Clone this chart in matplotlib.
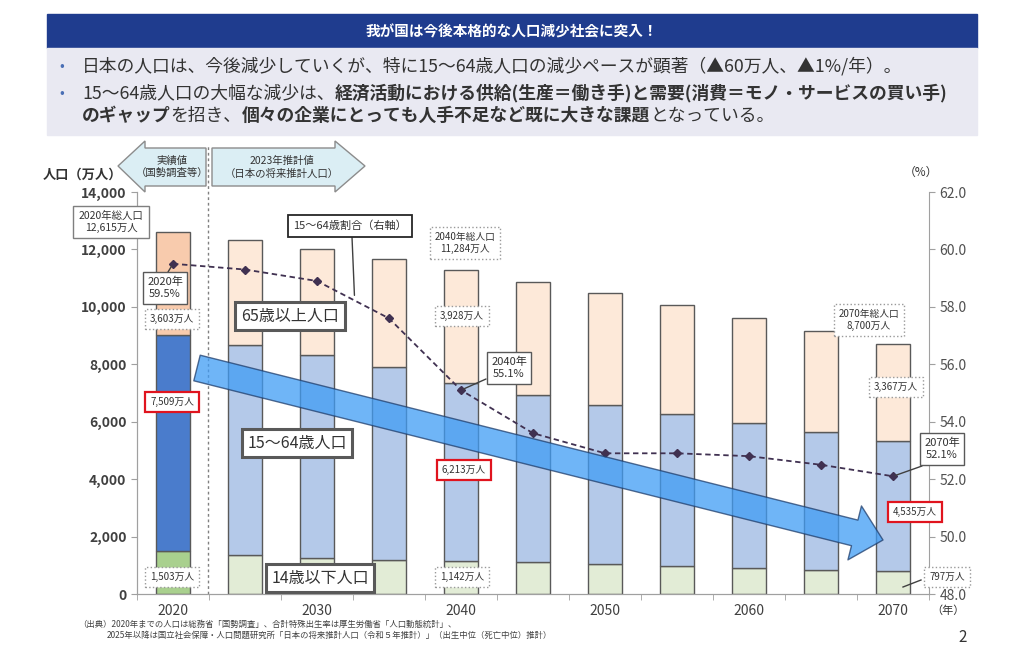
import matplotlib
matplotlib.use("Agg")
import matplotlib.pyplot as plt
import matplotlib.patches as mpatches
from matplotlib.lines import Line2D

plt.rcParams['font.family'] = ['Noto Sans CJK JP', 'DejaVu Sans']

# データ（万人）: 2020年は実績、2025年以降は推計
years = [2020, 2025, 2030, 2035, 2040, 2045, 2050, 2055, 2060, 2065, 2070]
age_0_14 = [1503, 1363, 1240, 1169, 1142, 1103, 1041, 970, 893, 840, 797]
age_15_64 = [7509, 7310, 7076, 6722, 6213, 5832, 5540, 5314, 5078, 4809, 4535]
age_65 = [3603, 3653, 3696, 3773, 3928, 3945, 3888, 3767, 3644, 3512, 3367]
ratio_15_64 = [59.5, 59.3, 58.9, 57.6, 55.1, 53.6, 52.9, 52.9, 52.8, 52.5, 52.1]
x_ticks = [2020, 2030, 2040, 2050, 2060, 2070]
y_ticks = [0, 2000, 4000, 6000, 8000, 10000, 12000, 14000]
r_ticks = [48.0, 50.0, 52.0, 54.0, 56.0, 58.0, 60.0, 62.0]

W, H = 1024, 653
fig = plt.figure(figsize=(W / 100, H / 100), dpi=100)


def px(x, y):
    return x / W, 1 - y / H


def ftext(x, y, s, **kw):
    return fig.text(*px(x, y), s, **kw)


# ---- ヘッダー ----
fig.patches.append(mpatches.Rectangle(px(47, 48), 930 / W, 34 / H, transform=fig.transFigure,
                                      color="#1f3c8e", zorder=0))
fig.patches.append(mpatches.Rectangle(px(47, 135), 930 / W, 87 / H, transform=fig.transFigure,
                                      color="#e9e9f2", zorder=0))
ftext(512, 31, "我が国は今後本格的な人口減少社会に突入！", color="white", fontsize=10.5,
      fontweight="bold", ha="center", va="center")

TXT = "#333333"
for yy in (66, 93):
    ftext(62, yy, "•", color="#4a6fb5", fontsize=10, ha="center", va="center")


def segments(x0, y, parts, size=12.8):
    r = fig.canvas.get_renderer()
    x = x0
    for s, bold in parts:
        t = ftext(x, y, s, fontsize=size, color=TXT, va="center", ha="left",
                  fontweight="bold" if bold else "normal")
        bb = t.get_window_extent(renderer=r)
        x += bb.width


segments(82, 66, [("日本の人口は、今後減少していくが、特に15～64歳人口の減少ペースが顕著（▲60万人、▲1%/年）。", False)])
segments(82, 93, [("15～64歳人口の大幅な減少は、", False),
                  ("経済活動における供給(生産＝働き手)と需要(消費＝モノ・サービスの買い手)", True)])
segments(82, 116, [("のギャップ", True), ("を招き、", False),
                   ("個々の企業にとっても人手不足など既に大きな課題", True), ("となっている。", False)])

# ---- グラフ本体 ----
ax = fig.add_axes([137 / W, 1 - 594 / H, 792 / W, 402 / H])
ax2 = ax.twinx()
ax.set_zorder(1)
ax2.set_zorder(2)
ax.patch.set_visible(False)

c_old = ["#f8cbad" if y == 2020 else "#fde9d9" for y in years]
c_mid = ["#4a7ccc" if y == 2020 else "#b4c9e9" for y in years]
c_young = ["#a9d08e" if y == 2020 else "#e2ecd6" for y in years]
bottom2 = [a + b for a, b in zip(age_0_14, age_15_64)]
bw = 2.3
kw = dict(width=bw, edgecolor="#595959", linewidth=1.0)
ax.bar(years, age_0_14, color=c_young, **kw)
ax.bar(years, age_15_64, bottom=age_0_14, color=c_mid, **kw)
ax.bar(years, age_65, bottom=bottom2, color=c_old, **kw)

ax.set_xlim(2017.5, 2072.5)
ax.set_ylim(0, 14000)
ax.set_yticks(y_ticks)
ax.set_yticklabels([f"{v:,}" for v in y_ticks], fontsize=10, fontweight="bold", color="#404040")
ax.set_xticks(x_ticks)
ax.set_xticklabels([str(v) for v in x_ticks], fontsize=10, color="#404040")
ax.set_xticks([y - 2.5 for y in years] + [2072.5], minor=True)
ax.tick_params(axis="x", which="major", length=0, pad=7)
ax.tick_params(axis="x", which="minor", length=4, color="#a0a0a0")
ax.tick_params(axis="y", length=4, color="#a0a0a0")
ax.spines["top"].set_visible(False)
ax2.spines["top"].set_visible(False)
for a in (ax, ax2):
    for sp in ("left", "right", "bottom"):
        a.spines[sp].set_color("#a0a0a0")
ax.spines["right"].set_visible(False)

ax2.plot(years, ratio_15_64, linestyle=(0, (3, 2)), color="#403151", linewidth=1.3,
         marker="D", markersize=4, markerfacecolor="#403151")
ax2.set_ylim(48, 62)
ax2.set_yticks(r_ticks)
ax2.set_yticklabels([f"{v:.1f}" for v in r_ticks], fontsize=10, color="#505050")
ax2.tick_params(axis="y", length=4, color="#a0a0a0")

# 実績値と推計値の境界
ax.axvline(2022.4, ymin=0, ymax=1.12, clip_on=False, color="#808080",
           linestyle=(0, (2, 2)), linewidth=1)

# 大きな矢印（15～64歳人口の減少）
arrow = mpatches.FancyArrowPatch(px(197, 368), px(883, 540), transform=fig.transFigure,
                                 arrowstyle="simple,head_length=21,head_width=40,tail_width=19",
                                 mutation_scale=1, shrinkA=0, shrinkB=0,
                                 facecolor="#3f9cf5", edgecolor="#1f3d6b", alpha=0.75,
                                 linewidth=1, zorder=5)
fig.patches.append(arrow)


# 上部の矢印ラベル
def poly(pts, **kw):
    fig.patches.append(mpatches.Polygon([px(*p) for p in pts], closed=True,
                                        transform=fig.transFigure, **kw))


poly([(118, 166), (145, 141), (145, 148), (206, 148), (206, 186), (145, 186), (145, 192)],
     facecolor="#dbeef4", edgecolor="#8c8c8c", linewidth=1)
poly([(212, 148), (335, 148), (335, 141), (365, 166), (335, 192), (335, 186), (212, 186)],
     facecolor="#dbeef4", edgecolor="#8c8c8c", linewidth=1)
ftext(172, 167, "実績値\n（国勢調査等）", fontsize=7.5, ha="center", va="center",
      color="#333333", linespacing=1.3)
ftext(282, 167, "2023年推計値\n（日本の将来推計人口）", fontsize=7.5, ha="center", va="center",
      color="#333333", linespacing=1.3)

ftext(82, 175, "人口（万人）", fontsize=9.5, fontweight="bold", ha="center", va="center", color="#333333")
ftext(921, 172, "（%）", fontsize=8.5, ha="center", va="center", color="#333333")
ftext(948, 611, "（年）", fontsize=8, ha="center", va="center", color="#333333")


# ---- 注記ボックス ----
def label(x, y, s, ls="-", ec="#7f7f7f", lw=1.0, size=7.5, pad=0.45, bold=False, **kw):
    return ftext(x, y, s, fontsize=size, ha="center", va="center", color="#333333",
                 fontweight="bold" if bold else "normal", linespacing=1.25, zorder=10,
                 bbox=dict(boxstyle=f"square,pad={pad}", facecolor="white", edgecolor=ec,
                           linewidth=lw, linestyle=ls), **kw)


label(111, 222, "2020年総人口\n12,615万人", size=7.5, pad=0.5)
label(172, 319, "3,603万人", ls=":", ec="#999999", size=7, pad=0.5)
label(172, 402, "7,509万人", ec="#e0141e", lw=1.6, size=7, pad=0.5)
label(172, 577, "1,503万人", ls=":", ec="#999999", size=7, pad=0.5)
label(465, 243, "2040年総人口\n11,284万人", ls=":", ec="#999999", size=7, pad=0.5)
label(462, 316, "3,928万人", ls=":", ec="#999999", size=7, pad=0.5)
label(464, 470, "6,213万人", ec="#e0141e", lw=1.6, size=7, pad=0.5)
label(462, 577, "1,142万人", ls=":", ec="#999999", size=7, pad=0.5)
label(869, 320, "2070年総人口\n8,700万人", ls=":", ec="#999999", size=7, pad=0.5)
label(896, 387, "3,367万人", ls=":", ec="#999999", size=7, pad=0.5)
label(915, 512, "4,535万人", ec="#e0141e", lw=1.6, size=7, pad=0.5)
label(947, 577, "797万人", ls=":", ec="#999999", size=7, pad=0.5)

for xx, yy, s in [(290, 316, "65歳以上人口"), (297, 443, "15～64歳人口"), (320, 578, "14歳以下人口")]:
    label(xx, yy, s, ec="#595959", lw=2.2, size=11.5, pad=0.35)

label(350, 226, "15～64歳割合（右軸）", ec="#262626", lw=1.3, size=8, pad=0.5)


def callout(x, y, s, xy, start):
    label(x, y, s, ec="#595959", lw=1.0, size=8, pad=0.4)
    ax2.annotate("", xy=xy, xycoords="data", xytext=px(*start), textcoords=fig.transFigure,
                 arrowprops=dict(arrowstyle="-", color="#404040", lw=1, shrinkA=0, shrinkB=2),
                 annotation_clip=False)


callout(165, 288, "2020年\n59.5%", (years[0], ratio_15_64[0]), (168, 272))
callout(509, 368, "2040年\n55.1%", (years[4], ratio_15_64[4]), (486, 379))
callout(942, 449, "2070年\n52.1%", (years[-1], ratio_15_64[-1]), (922, 466))
ax2.annotate("", xy=(2032.6, 58.4), xycoords="data", xytext=px(352, 237), textcoords=fig.transFigure,
             arrowprops=dict(arrowstyle="-", color="#404040", lw=1, shrinkA=0, shrinkB=0),
             annotation_clip=False)
fig.lines.append(Line2D([921 / W, 903 / W], [1 - 580 / H, 1 - 587 / H], transform=fig.transFigure,
                        color="#404040", linewidth=1))

# ---- 出典 ----
ftext(78, 624, "（出典）2020年までの人口は総務省「国勢調査」、合計特殊出生率は厚生労働省「人口動態統計」、",
      fontsize=6, color="#404040", va="center")
ftext(107, 635, "2025年以降は国立社会保障・人口問題研究所「日本の将来推計人口（令和５年推計）」（出生中位（死亡中位）推計）",
      fontsize=6, color="#404040", va="center")
ftext(963, 637, "2", fontsize=11, color="#333333", ha="center", va="center")

fig.savefig("out.png", dpi=100)
